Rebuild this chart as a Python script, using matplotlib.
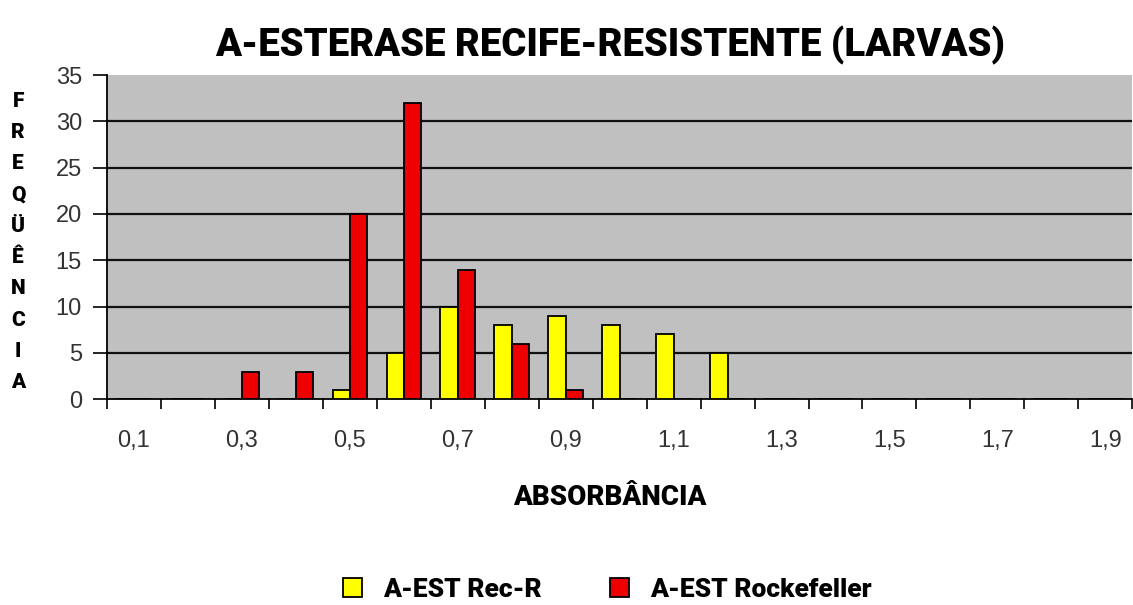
import numpy as np
import matplotlib
matplotlib.use("Agg")
import matplotlib.pyplot as plt
from matplotlib.patches import Patch

# absorbance classes and frequencies
absorbancia = [0.1, 0.2, 0.3, 0.4, 0.5, 0.6, 0.7, 0.8, 0.9, 1.0,
               1.1, 1.2, 1.3, 1.4, 1.5, 1.6, 1.7, 1.8, 1.9]
rec_r = [0, 0, 0, 0, 1, 5, 10, 8, 9, 8, 7, 5, 0, 0, 0, 0, 0, 0, 0]
rockefeller = [0, 0, 3, 3, 20, 32, 14, 6, 1, 0, 0, 0, 0, 0, 0, 0, 0, 0, 0]
tick_labels = [f"{v:.1f}".replace(".", ",") for v in absorbancia]

narrow = ["Roboto", "DejaVu Sans"]
plain = ["Liberation Sans", "DejaVu Sans"]

fig = plt.figure(figsize=(11.33, 6.05), dpi=100)
ax = fig.add_axes([0.0944, 0.340, 0.905, 0.536])
ax.set_facecolor("#c0c0c0")

x = np.arange(len(absorbancia))
w = 0.32
ax.bar(x - w / 2, rec_r, w, color="#ffff00", edgecolor="black", linewidth=1.3, zorder=3)
ax.bar(x + w / 2, rockefeller, w, color="#ee0000", edgecolor="black", linewidth=1.3, zorder=3)

ax.set_xlim(-0.5, len(absorbancia) - 0.5)
ax.set_ylim(0, 35)
ax.set_yticks(range(0, 36, 5))
for yv in range(5, 35, 5):
    ax.axhline(yv, color="#111111", linewidth=1.6, zorder=2)

# labels under every other class, ticks between classes
ax.set_xticks(x[::2])
ax.set_xticklabels(tick_labels[::2], family=plain, fontsize=17, color="#333333")
ax.set_xticks(np.arange(-0.5, len(absorbancia), 1), minor=True)
ax.tick_params(axis="x", which="major", length=0, pad=22)
ax.tick_params(axis="x", which="minor", length=7, width=1.2, direction="out")
ax.tick_params(axis="y", length=10, width=1.2, pad=8, labelsize=17, labelcolor="#333333")
for lab in ax.get_yticklabels():
    lab.set_family(plain)

for s in ["top", "right"]:
    ax.spines[s].set_visible(False)
ax.spines["left"].set_linewidth(1.3)
ax.spines["bottom"].set_linewidth(1.3)

fig.text(0.538, 0.925, "A-ESTERASE RECIFE-RESISTENTE (LARVAS)", ha="center", va="center",
         family=narrow, fontsize=27.5, fontweight="black")
fig.text(0.538, 0.178, "ABSORBÂNCIA", ha="center", va="center",
         family=narrow, fontsize=20, fontweight="black")
fig.text(0.016, 0.6, "\n".join("FREQÜÊNCIA"), ha="center", va="center",
         family=narrow, fontsize=15, fontweight="black", linespacing=1.82)

handles = [Patch(facecolor="#ffff00", edgecolor="black", linewidth=1.3),
           Patch(facecolor="#ee0000", edgecolor="black", linewidth=1.3)]
fig.legend(handles, ["A-EST Rec-R", "A-EST Rockefeller"], loc="center",
           bbox_to_anchor=(0.536, 0.025), ncol=2, frameon=False,
           handlelength=0.7, handleheight=0.7, columnspacing=2.6,
           prop={"family": narrow, "size": 19, "weight": "black"})

fig.savefig("out.png", dpi=100)
